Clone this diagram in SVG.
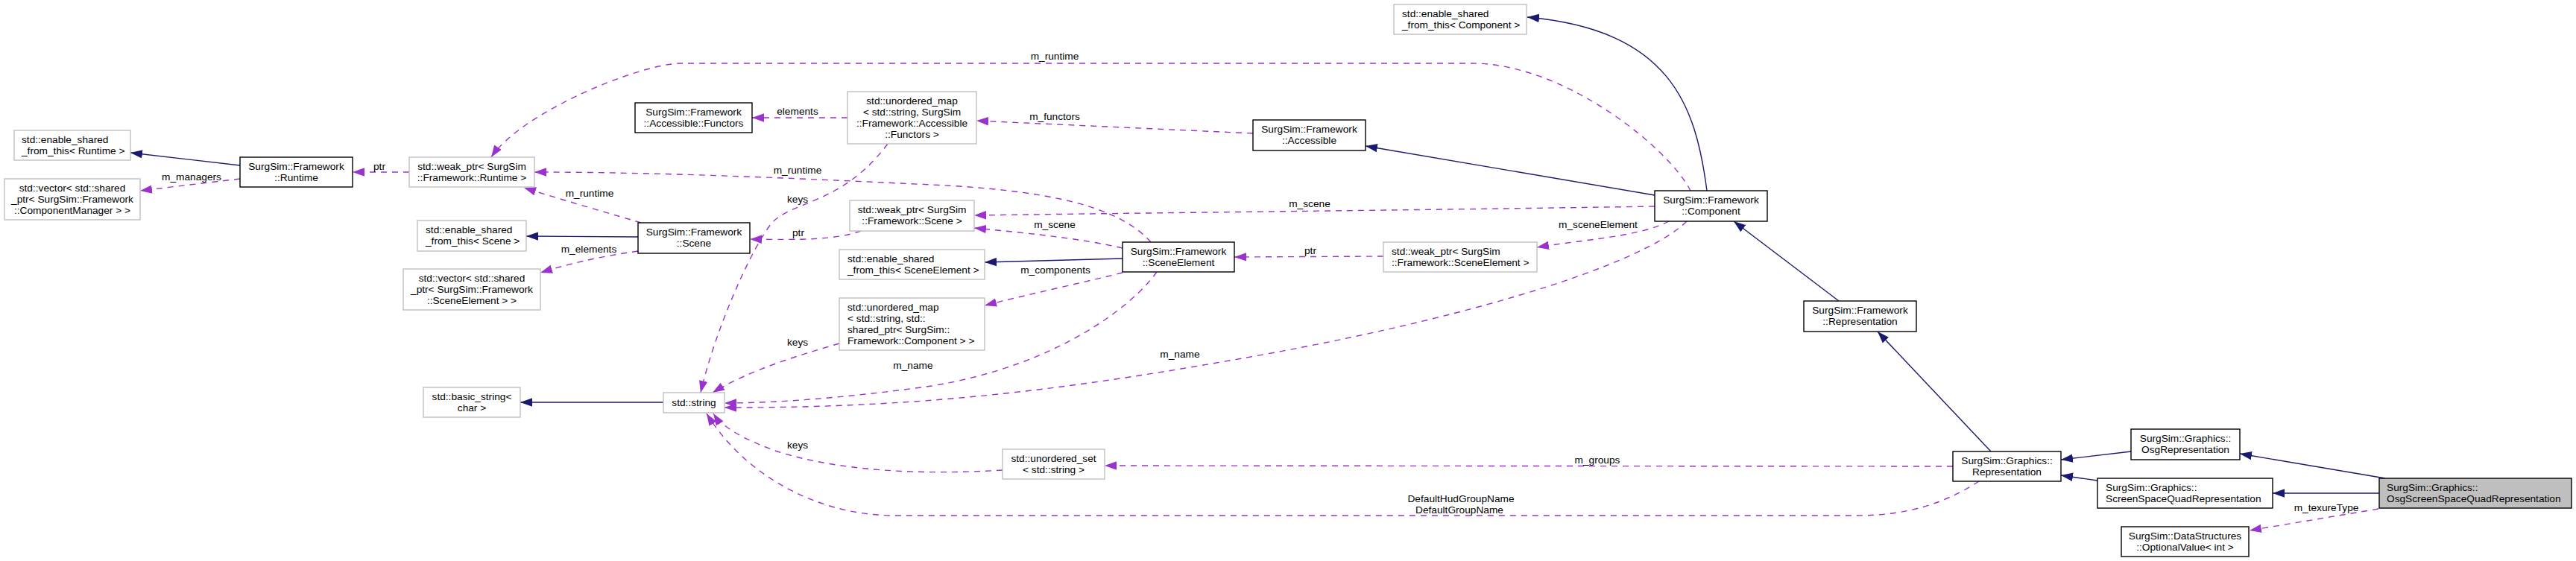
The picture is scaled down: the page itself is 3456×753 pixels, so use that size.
<svg xmlns="http://www.w3.org/2000/svg" width="3456" height="753" viewBox="0 0 3456 753">
<style>
text{font-family:"Liberation Sans",Arial,Helvetica,sans-serif;font-size:13.7px;fill:#000}
.c{text-anchor:middle}
.bx{fill:#fff;stroke:#bfbfbf;stroke-width:1.4}
.bk{fill:#fff;stroke:#000;stroke-width:1.4}
.main{fill:#bfbfbf;stroke:#000;stroke-width:1.4}
.inh{fill:none;stroke:#191970;stroke-width:1.4;marker-end:url(#an)}
.use{fill:none;stroke:#9a32cd;stroke-width:1.4;stroke-dasharray:8,7;marker-end:url(#ap)}
</style>
<defs>
<marker id="an" markerUnits="userSpaceOnUse" markerWidth="16" markerHeight="12" refX="14" refY="5" orient="auto" viewBox="0 0 14 10"><path d="M0,0 L14,5 L0,10 z" fill="#191970"/></marker>
<marker id="ap" markerUnits="userSpaceOnUse" markerWidth="16" markerHeight="12" refX="14" refY="5" orient="auto" viewBox="0 0 14 10"><path d="M0,0 L14,5 L0,10 z" fill="#9a32cd"/></marker>
</defs>
<rect width="3456" height="753" fill="#fff"/>
<g id="connectors">
<path class="inh" d="M322,222 L175,205"/>
<path class="use" d="M322,240 L188,256"/>
<text class="c" x="257" y="242">m_managers</text>
<path class="use" d="M549,231 L473,231"/>
<text class="c" x="509" y="228">ptr</text>
<path class="use" d="M2268,256 C2240,200 2100,85 1975,85 L914,85 C860,85 700,150 659,211"/>
<text class="c" x="1415" y="80">m_runtime</text>
<path class="use" d="M1137,158 L1009,158"/>
<text class="c" x="1070" y="154">elements</text>
<path class="use" d="M1681,179 L1310,162"/>
<text class="c" x="1415" y="161">m_functors</text>
<path class="inh" d="M2220,262 L1832,196"/>
<path class="inh" d="M2290,256 C2275,140 2240,40 2049,23"/>
<path class="use" d="M1544,325 C1500,275 1400,255 1250,248 C1100,241 900,231 717,231"/>
<text class="c" x="1070" y="233">m_runtime</text>
<path class="use" d="M860,299 C830,290 760,270 703,252"/>
<text class="c" x="791" y="264">m_runtime</text>
<path class="inh" d="M856,318 L706,317"/>
<path class="use" d="M856,337 C800,345 760,355 725,366"/>
<text class="c" x="790" y="339">m_elements</text>
<path class="use" d="M1155,310 C1120,322 1080,322 1006,321"/>
<text class="c" x="1071" y="317">ptr</text>
<path class="use" d="M1506,333 C1450,320 1380,313 1307,306"/>
<text class="c" x="1415" y="306">m_scene</text>
<path class="use" d="M2220,277 C1900,282 1600,285 1307,289"/>
<text class="c" x="1757" y="278">m_scene</text>
<path class="inh" d="M1506,347 L1321,352"/>
<path class="use" d="M1506,366 C1450,380 1380,395 1321,410"/>
<text class="c" x="1416" y="367">m_components</text>
<path class="use" d="M1856,344 L1656,345"/>
<text class="c" x="1758" y="341">ptr</text>
<path class="use" d="M2239,297 C2200,318 2120,322 2062,332"/>
<text class="c" x="2144" y="306">m_sceneElement</text>
<path class="use" d="M2263,297 C2210,350 2000,420 1700,475 C1450,520 1250,548 972,547"/>
<text class="c" x="1583" y="480">m_name</text>
<path class="use" d="M1552,365 C1520,410 1420,490 1250,518 C1150,532 1050,541 972,541"/>
<text class="c" x="1225" y="495">m_name</text>
<path class="use" d="M1191,193 C1130,275 1060,270 1035,300 C1010,330 960,440 940,527"/>
<text class="c" x="1070" y="272">keys</text>
<path class="use" d="M1126,461 C1060,480 1000,500 956,527"/>
<text class="c" x="1070" y="464">keys</text>
<path class="use" d="M1345,631 C1200,640 1100,625 1040,605 C1000,590 970,575 957,555"/>
<text class="c" x="1070" y="602">keys</text>
<path class="inh" d="M890,540 L698,540"/>
<path class="use" d="M2655,646 C2610,675 2560,692 2490,692 L1200,692 C1100,692 1000,640 948,555"/>
<text class="c" x="1960" y="674">DefaultHudGroupName</text>
<text class="c" x="1958" y="689">DefaultGroupName</text>
<path class="use" d="M2620,626 L1482,625"/>
<text class="c" x="2143" y="622">m_groups</text>
<path class="inh" d="M2467,404 L2326,297"/>
<path class="inh" d="M2671,606 L2519,445"/>
<path class="inh" d="M2859,606 L2765,617"/>
<path class="inh" d="M2814,645 L2765,638"/>
<path class="inh" d="M3200,642 L3005,609"/>
<path class="inh" d="M3192,662 L3049,662"/>
<path class="use" d="M3191,683 L3018,712"/>
<text class="c" x="3121" y="686">m_texureType</text>
</g>
<g id="n1"><rect class="bx" x="19" y="175" width="156" height="40"/><text x="29" y="192">std::enable_shared</text><text x="29" y="207">_from_this&lt; Runtime &gt;</text></g>
<g id="n2"><rect class="bx" x="6" y="240" width="182" height="55"/><text class="c" x="97" y="257">std::vector&lt; std::shared</text><text class="c" x="97" y="272">_ptr&lt; SurgSim::Framework</text><text class="c" x="97" y="287">::ComponentManager &gt; &gt;</text></g>
<g id="n3"><rect class="bk" x="322" y="211" width="151" height="40"/><text class="c" x="397.5" y="228">SurgSim::Framework</text><text class="c" x="397.5" y="243">::Runtime</text></g>
<g id="n4"><rect class="bx" x="549" y="211" width="168" height="40"/><text class="c" x="633" y="228">std::weak_ptr&lt; SurgSim</text><text class="c" x="633" y="243">::Framework::Runtime &gt;</text></g>
<g id="n5"><rect class="bk" x="852" y="138" width="157" height="40"/><text class="c" x="930.5" y="155">SurgSim::Framework</text><text class="c" x="930.5" y="170">::Accessible::Functors</text></g>
<g id="n6"><rect class="bx" x="1137" y="123" width="173" height="70"/><text class="c" x="1223.5" y="140">std::unordered_map</text><text class="c" x="1223.5" y="155">&lt; std::string, SurgSim</text><text class="c" x="1223.5" y="170">::Framework::Accessible</text><text class="c" x="1223.5" y="185">::Functors &gt;</text></g>
<g id="n7"><rect class="bx" x="560" y="296" width="146" height="41"/><text x="571" y="313">std::enable_shared</text><text x="571" y="328">_from_this&lt; Scene &gt;</text></g>
<g id="n8"><rect class="bk" x="856" y="299" width="150" height="41"/><text class="c" x="931" y="316">SurgSim::Framework</text><text class="c" x="931" y="331">::Scene</text></g>
<g id="n9"><rect class="bx" x="541" y="361" width="184" height="55"/><text class="c" x="633" y="378">std::vector&lt; std::shared</text><text class="c" x="633" y="393">_ptr&lt; SurgSim::Framework</text><text class="c" x="633" y="408">::SceneElement &gt; &gt;</text></g>
<g id="n10"><rect class="bx" x="1140" y="269" width="167" height="41"/><text class="c" x="1223.5" y="286">std::weak_ptr&lt; SurgSim</text><text class="c" x="1223.5" y="301">::Framework::Scene &gt;</text></g>
<g id="n11"><rect class="bx" x="1126" y="335" width="195" height="40"/><text x="1137" y="352">std::enable_shared</text><text x="1137" y="367">_from_this&lt; SceneElement &gt;</text></g>
<g id="n12"><rect class="bk" x="1506" y="325" width="150" height="40"/><text class="c" x="1581" y="342">SurgSim::Framework</text><text class="c" x="1581" y="357">::SceneElement</text></g>
<g id="n13"><rect class="bx" x="1126" y="400" width="195" height="70"/><text x="1137" y="417">std::unordered_map</text><text x="1137" y="432">&lt; std::string, std::</text><text x="1137" y="447">shared_ptr&lt; SurgSim::</text><text x="1137" y="462">Framework::Component &gt; &gt;</text></g>
<g id="n14"><rect class="bx" x="568" y="520" width="130" height="40"/><text class="c" x="633" y="537">std::basic_string&lt;</text><text class="c" x="633" y="552">char &gt;</text></g>
<g id="n15"><rect class="bx" x="890" y="527" width="82" height="27"/><text class="c" x="931" y="545">std::string</text></g>
<g id="n16"><rect class="bx" x="1345" y="603" width="137" height="40"/><text class="c" x="1413.5" y="620">std::unordered_set</text><text class="c" x="1413.5" y="635">&lt; std::string &gt;</text></g>
<g id="n17"><rect class="bk" x="1681" y="161" width="151" height="41"/><text class="c" x="1756.5" y="178">SurgSim::Framework</text><text class="c" x="1756.5" y="193">::Accessible</text></g>
<g id="n18"><rect class="bx" x="1870" y="6" width="178" height="40"/><text x="1881" y="23">std::enable_shared</text><text x="1881" y="38">_from_this&lt; Component &gt;</text></g>
<g id="n19"><rect class="bk" x="2220" y="256" width="151" height="41"/><text class="c" x="2295.5" y="273">SurgSim::Framework</text><text class="c" x="2295.5" y="288">::Component</text></g>
<g id="n20"><rect class="bx" x="1856" y="325" width="206" height="40"/><text x="1867" y="342">std::weak_ptr&lt; SurgSim</text><text x="1867" y="357">::Framework::SceneElement &gt;</text></g>
<g id="n21"><rect class="bk" x="2420" y="404" width="151" height="41"/><text class="c" x="2495.5" y="421">SurgSim::Framework</text><text class="c" x="2495.5" y="436">::Representation</text></g>
<g id="n22"><rect class="bk" x="2620" y="606" width="145" height="40"/><text class="c" x="2692.5" y="623">SurgSim::Graphics::</text><text class="c" x="2692.5" y="638">Representation</text></g>
<g id="n23"><rect class="bk" x="2859" y="576" width="146" height="41"/><text class="c" x="2932" y="593">SurgSim::Graphics::</text><text class="c" x="2932" y="608">OsgRepresentation</text></g>
<g id="n24"><rect class="bk" x="2814" y="642" width="235" height="40"/><text x="2825" y="659">SurgSim::Graphics::</text><text x="2825" y="674">ScreenSpaceQuadRepresentation</text></g>
<g id="n25"><rect class="main" x="3192" y="642" width="258" height="40"/><text x="3202" y="659">SurgSim::Graphics::</text><text x="3202" y="674">OsgScreenSpaceQuadRepresentation</text></g>
<g id="n26"><rect class="bk" x="2846" y="707" width="171" height="40"/><text class="c" x="2931.5" y="724">SurgSim::DataStructures</text><text class="c" x="2931.5" y="739">::OptionalValue&lt; int &gt;</text></g>
</svg>
